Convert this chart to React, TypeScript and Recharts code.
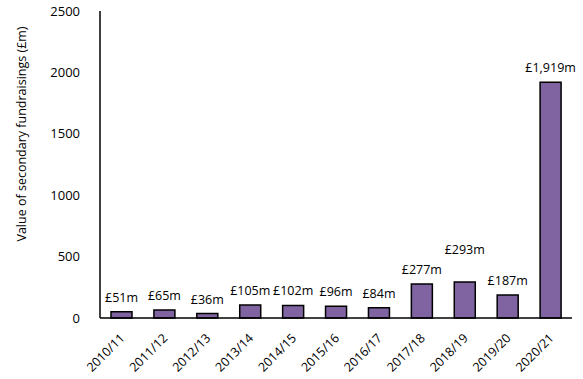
import React from 'react';
import { BarChart, Bar, XAxis, YAxis, LabelList } from 'recharts';

const categories = ['2010/11', '2011/12', '2012/13', '2013/14', '2014/15', '2015/16', '2016/17', '2017/18', '2018/19', '2019/20', '2020/21'];
const values = [51, 65, 36, 105, 102, 96, 84, 277, 293, 187, 1919];
const valueLabels = ['£51m', '£65m', '£36m', '£105m', '£102m', '£96m', '£84m', '£277m', '£293m', '£187m', '£1,919m'];
const yTicks = [0, 500, 1000, 1500, 2000, 2500];

const data = categories.map((c, i) => ({ year: c, amount: values[i] }));

const FONT = 'Open Sans';

const XTick = (props: any) => {
  const { x, y, payload } = props;
  const ax = x + 4;
  const ay = y + 13;
  return (
    <text
      x={ax}
      y={ay}
      textAnchor="end"
      fontFamily={FONT}
      fontSize={12.5}
      fill="#000"
      transform={`rotate(-45, ${ax}, ${ay})`}
    >
      {payload.value}
    </text>
  );
};

const renderValueLabel = (props: any) => {
  const { x, y, width, index } = props;
  const raise = categories[index] === '2018/19' ? 18 : 0;
  return (
    <text
      x={Number(x) + Number(width) / 2}
      y={Number(y) - 10 - raise}
      textAnchor="middle"
      fontFamily={FONT}
      fontSize={12.5}
      fill="#000"
    >
      {valueLabels[index]}
    </text>
  );
};

export default function App() {
  return (
    <div style={{ position: 'absolute', left: 0, top: 0, background: '#fff' }}>
      <BarChart
        width={583}
        height={379}
        data={data}
        margin={{ top: 11, right: 11, left: 0, bottom: 0 }}
      >
        <XAxis
          dataKey="year"
          height={61}
          interval={0}
          tickLine={false}
          axisLine={{ stroke: '#000', strokeWidth: 1.5 }}
          tick={<XTick />}
        />
        <YAxis
          width={100}
          domain={[0, 2500]}
          ticks={yTicks}
          tickLine={false}
          axisLine={{ stroke: '#000', strokeWidth: 1.5 }}
          tickMargin={14}
          tick={{ fontFamily: FONT, fontSize: 13, fill: '#000' }}
        />
        <Bar dataKey="amount" barSize={21} fill="#8064a2" stroke="#000" strokeWidth={1.5} isAnimationActive={false}>
          <LabelList dataKey="amount" content={renderValueLabel} />
        </Bar>
      </BarChart>
      <svg width={40} height={379} style={{ position: 'absolute', left: 0, top: 0 }}>
        <text
          x={23}
          y={134}
          textAnchor="middle"
          dominantBaseline="middle"
          fontFamily={FONT}
          fontSize={12.5}
          fill="#000"
          transform="rotate(-90, 23, 134)"
        >
          Value of secondary fundraisings (£m)
        </text>
      </svg>
    </div>
  );
}
